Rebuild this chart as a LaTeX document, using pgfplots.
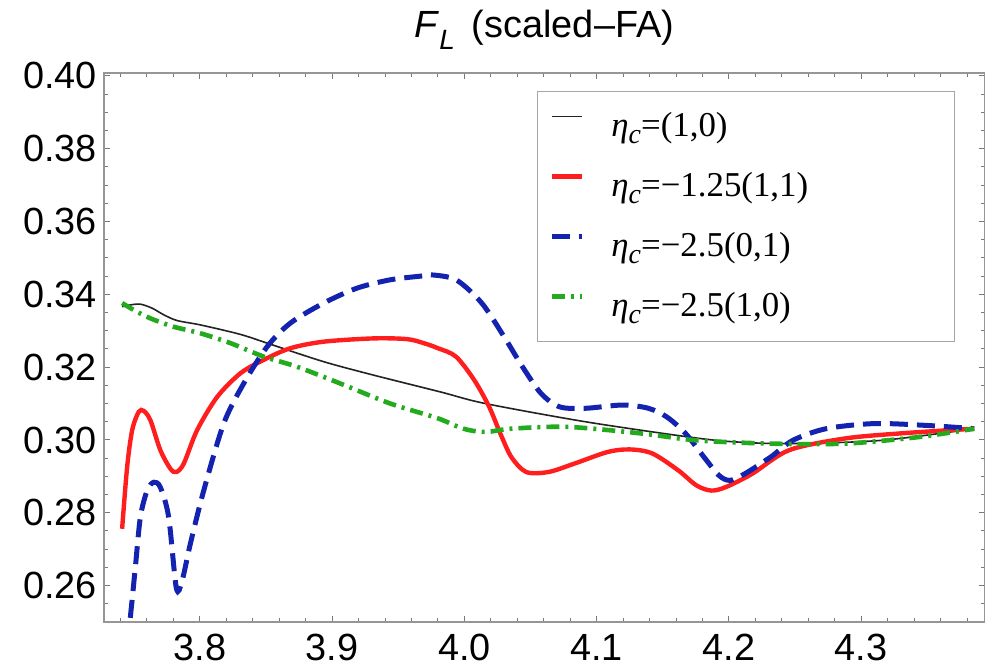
\documentclass[border=0pt]{standalone}
\usepackage{fontspec}
\setmainfont{Liberation Sans}
\newfontfamily\legfont{Liberation Serif}
\usepackage{pgfplots}
\pgfplotsset{compat=1.18}

\definecolor{cblack}{RGB}{35,35,35}
\definecolor{cred}{RGB}{255,30,30}
\definecolor{cblue}{RGB}{20,35,175}
\definecolor{cgreen}{RGB}{35,170,30}
\definecolor{framegray}{RGB}{150,150,150}

\newcommand\etac{\textit{η}\raisebox{-0.2em}{\fontsize{14}{14}\selectfont\textit{c}}}

\begin{document}
\begin{tikzpicture}
\begin{axis}[
  width=440.25bp, height=274.5bp, scale only axis,
  xmin=3.7275, xmax=4.3932, ymin=0.25, ymax=0.4008,
  xtick={3.8,3.9,4.0,4.1,4.2,4.3},
  minor xtick={3.74,3.76,3.78,3.82,3.84,3.86,3.88,3.92,3.94,3.96,3.98,4.02,4.04,4.06,4.08,4.12,4.14,4.16,4.18,4.22,4.24,4.26,4.28,4.32,4.34,4.36,4.38},
  ytick={0.26,0.28,0.30,0.32,0.34,0.36,0.38,0.40},
  minor ytick={0.255,0.265,0.27,0.275,0.285,0.29,0.295,0.305,0.31,0.315,0.325,0.33,0.335,0.345,0.35,0.355,0.365,0.37,0.375,0.385,0.39,0.395},
  xticklabel style={/pgf/number format/fixed, /pgf/number format/fixed zerofill, /pgf/number format/precision=1, yshift=-2.5bp},
  yticklabel style={/pgf/number format/fixed, /pgf/number format/fixed zerofill, /pgf/number format/precision=2},
  /pgf/number format/assume math mode=true,
  tick label style={font=\fontsize{19}{22}\selectfont},
  tick align=inside,
  major tick length=3bp, minor tick length=1.8bp,
  every tick/.style={framegray!80!black, line width=0.5bp},
  axis line style={framegray, line width=0.6bp},
  xticklabel pos=lower, yticklabel pos=left,
  title={\textit{F}\raisebox{-0.3em}{\fontsize{14}{14}\selectfont\textit{L}}\hspace{0.45em}(scaled--FA)},
  every axis title/.style={at={(0.5,1)}, anchor=base, yshift=17.5bp, font=\fontsize{19}{22}\selectfont},
  legend style={at={(0.9665,0.9675)}, anchor=north east, draw=black!35, line width=0.6bp, fill=white,
    inner xsep=6bp, inner ysep=2.5bp, column sep=13.5bp,
    nodes={inner sep=0pt, text height=20bp, text depth=10bp},
    font=\legfont\fontsize{17.5}{20}\selectfont},
  legend cell align=left,
  legend image code/.code={\draw[#1] (0bp,5bp) -- (15bp,5bp);},
]
% eta_c = (1,0)
\addplot[cblack, line width=0.8bp, smooth] coordinates {
(3.7412,0.3366) (3.7475,0.3371) (3.7550,0.3373) (3.7639,0.3362) (3.7726,0.3344)
(3.7828,0.3328) (3.8004,0.3316) (3.8306,0.3290) (3.8533,0.3263) (3.8936,0.3215)
(3.9314,0.3178) (3.9818,0.3132) (4.0159,0.3100) (4.0915,0.3050) (4.1699,0.3008)
(4.2035,0.2995) (4.2455,0.2990) (4.3155,0.2999) (4.3854,0.3031)
};
\addlegendentry{\makebox[165.5bp][l]{\etac=(1,0)}}
% eta_c = -1.25(1,1)
\addplot[cred, line width=2.2bp, smooth] coordinates {
(3.7412,0.2756) (3.7450,0.2926) (3.7488,0.3027) (3.7537,0.3077) (3.7575,0.3080)
(3.7626,0.3054) (3.7701,0.2972) (3.7777,0.2921) (3.7822,0.2912) (3.7878,0.2935)
(3.7979,0.3027) (3.8130,0.3118) (3.8306,0.3183) (3.8482,0.3220) (3.8684,0.3252)
(3.8936,0.3270) (3.9314,0.3279) (3.9566,0.3277) (3.9692,0.3266) (3.9800,0.3252)
(3.9936,0.3229) (4.0075,0.3164) (4.0187,0.3091) (4.0271,0.3018) (4.0355,0.2953)
(4.0467,0.2912) (4.0635,0.2912) (4.0831,0.2935) (4.1083,0.2967) (4.1251,0.2974)
(4.1420,0.2963) (4.1615,0.2917) (4.1755,0.2875) (4.1867,0.2861) (4.1979,0.2871)
(4.2175,0.2907) (4.2455,0.2972) (4.2875,0.3004) (4.3295,0.3018) (4.3854,0.3031)
};
\addlegendentry{\makebox[165.5bp][l]{\etac=−1.25(1,1)}}
% eta_c = -2.5(0,1)
\addplot[cblue, line width=2.5bp, smooth, dash pattern=on 9bp off 4.5bp] coordinates {
(3.7412,0.2290) (3.7469,0.2494) (3.7512,0.2650) (3.7550,0.2788) (3.7601,0.2861)
(3.7651,0.2884) (3.7701,0.2870) (3.7764,0.2788) (3.7822,0.2593) (3.7865,0.2613)
(3.7928,0.2715) (3.8029,0.2861) (3.8180,0.3045) (3.8331,0.3155) (3.8508,0.3256)
(3.8684,0.3321) (3.8936,0.3376) (3.9188,0.3417) (3.9440,0.3440) (3.9692,0.3451)
(3.9739,0.3454) (3.9936,0.3440) (4.0131,0.3376) (4.0299,0.3284) (4.0439,0.3201)
(4.0579,0.3128) (4.0720,0.3091) (4.0915,0.3087) (4.1195,0.3096) (4.1391,0.3087)
(4.1531,0.3063) (4.1671,0.3018) (4.1811,0.2953) (4.1923,0.2903) (4.2007,0.2889)
(4.2119,0.2907) (4.2315,0.2953) (4.2483,0.2999) (4.2735,0.3031) (4.3099,0.3045)
(4.3491,0.3040) (4.3854,0.3031)
};
\addlegendentry{\makebox[165.5bp][l]{\etac=−2.5(0,1)}}
% eta_c = -2.5(1,0)
\addplot[cgreen, line width=2.3bp, smooth, dash pattern=on 6.5bp off 3bp on 1.5bp off 3bp] coordinates {
(3.7412,0.3376) (3.7500,0.3357) (3.7626,0.3334) (3.7802,0.3311) (3.8004,0.3293)
(3.8231,0.3266) (3.8482,0.3229) (3.8735,0.3201) (3.9062,0.3155) (3.9440,0.3100)
(3.9795,0.3060) (3.9992,0.3031) (4.0159,0.3022) (4.0355,0.3031) (4.0775,0.3036)
(4.1335,0.3018) (4.1755,0.2999) (4.2315,0.2990) (4.2875,0.2990) (4.3435,0.3008)
(4.3854,0.3031)
};
\addlegendentry{\makebox[165.5bp][l]{\etac=−2.5(1,0)}}
\end{axis}
\pgfresetboundingbox
\path ([xshift=-52bp,yshift=-24.5bp]current axis.south west) rectangle ([xshift=1.25bp,yshift=36.5bp]current axis.north east);
\end{tikzpicture}
\end{document}
